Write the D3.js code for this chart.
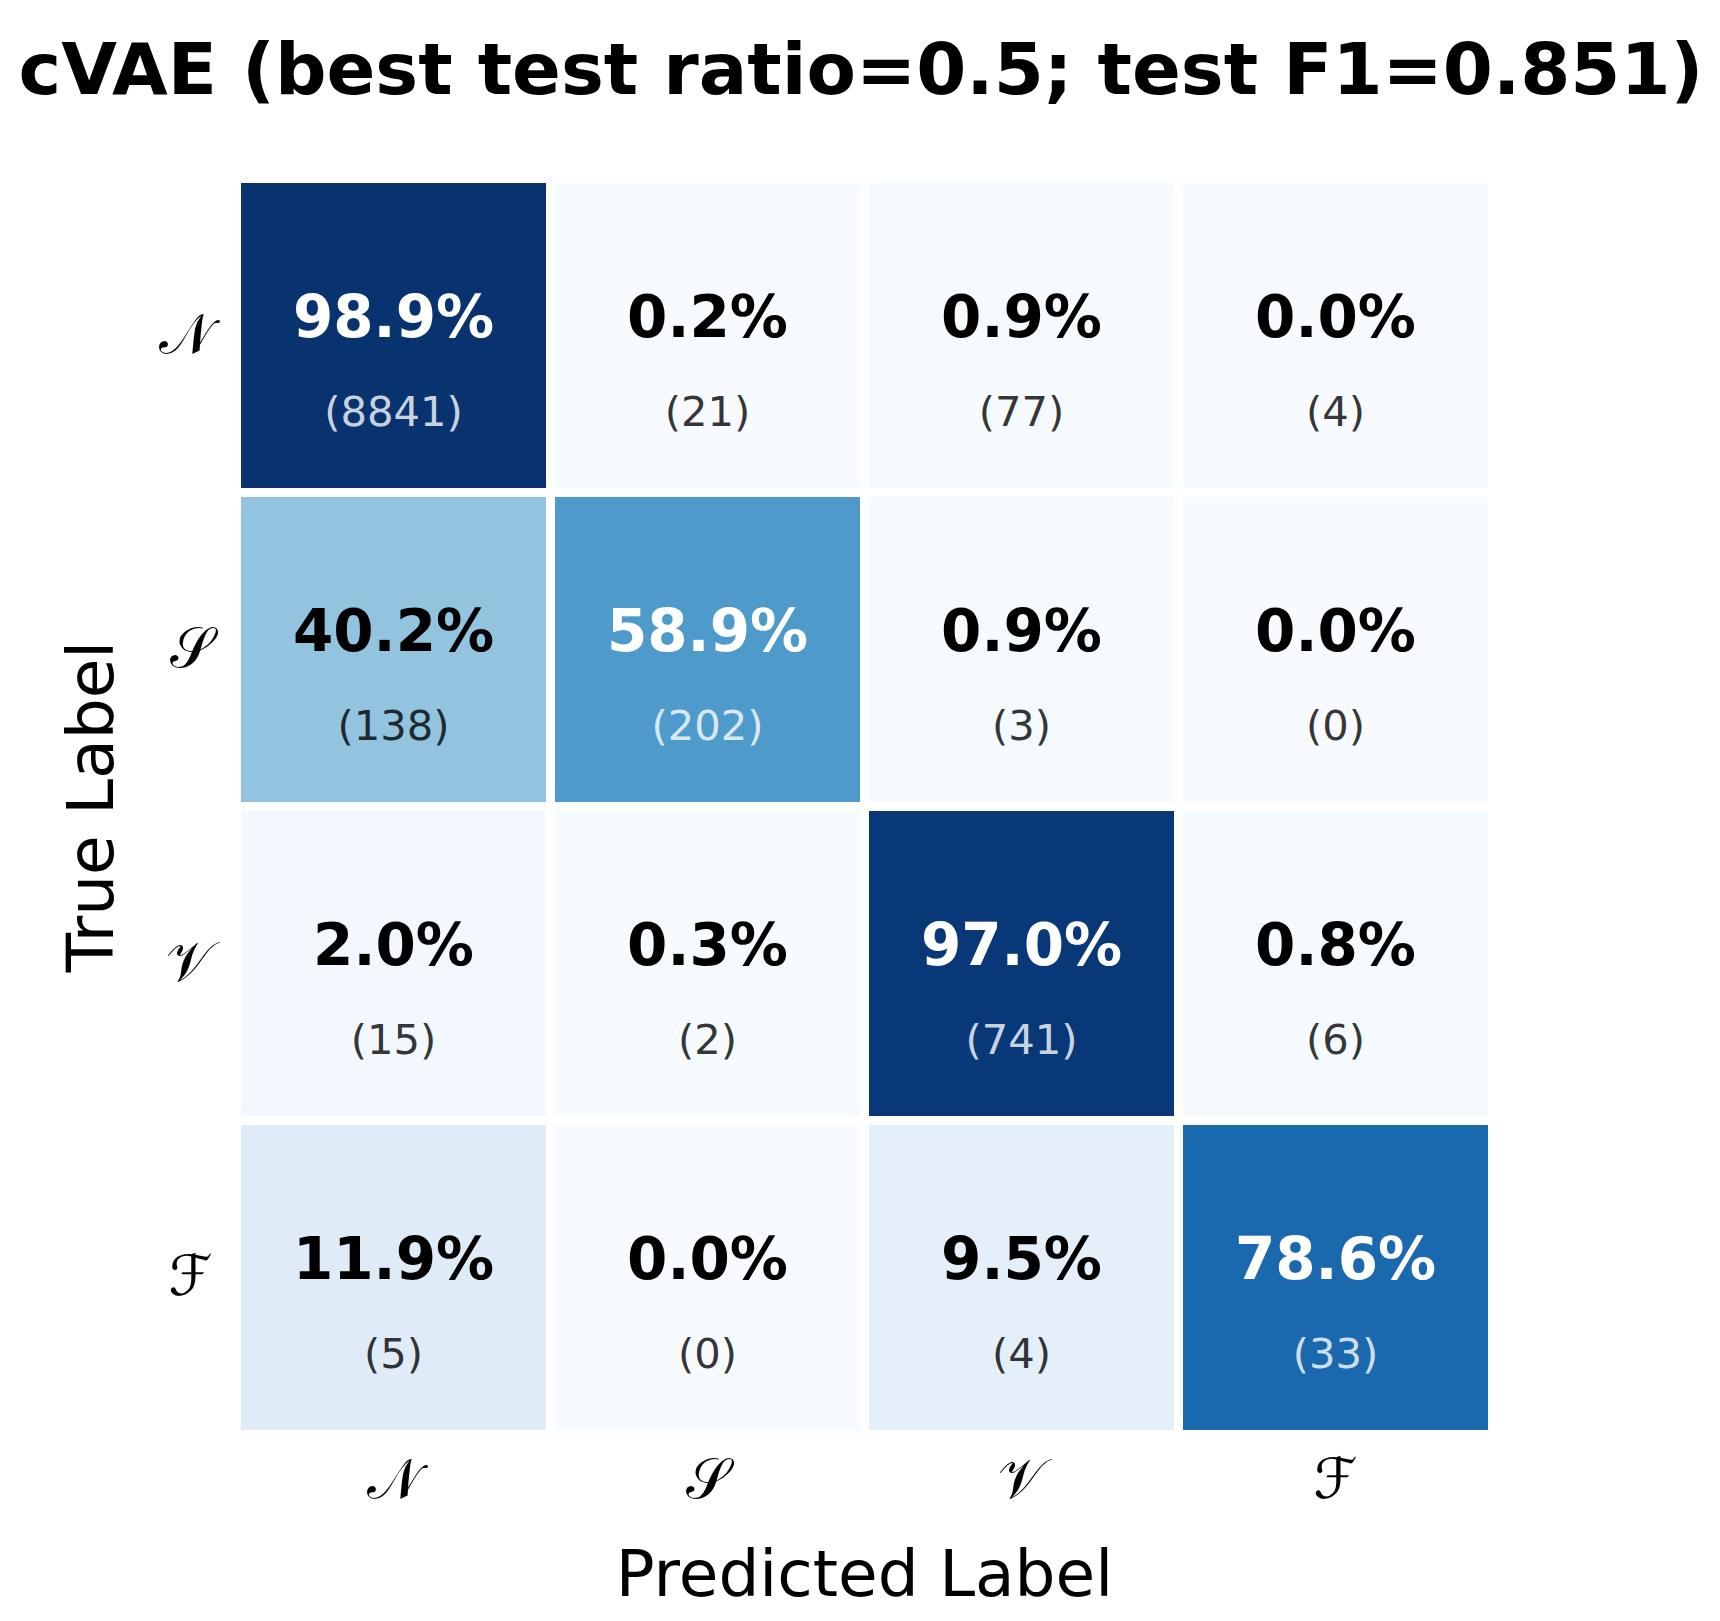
<!DOCTYPE html>
<html>
<head>
<meta charset="utf-8">
<script src="https://cdn.jsdelivr.net/npm/d3@7"></script>
<style>
    body { margin: 0; background: #fff; }
    svg text { font-family: "DejaVu Sans", sans-serif; }
    .title { font-weight: bold; font-size: 72px; }
    .pct { font-weight: bold; font-size: 58px; }
    .cnt { font-size: 41.7px; }
    .axis-label { font-size: 64.5px; }
    .tick-label { font-family: "DejaVu Serif", "DejaVu Sans", serif; font-size: 56px; }
</style>
</head>
<body>
<div class="panel"></div>
<script>

// Data ////////////////////////////////////

const classes = ["𝒩", "𝒮", "𝒱", "ℱ"];

// row-normalised percentages (true label x predicted label)
const percentN = [98.9, 0.2, 0.9, 0.0];
const percentS = [40.2, 58.9, 0.9, 0.0];
const percentV = [2.0, 0.3, 97.0, 0.8];
const percentF = [11.9, 0.0, 9.5, 78.6];

const countN = [8841, 21, 77, 4];
const countS = [138, 202, 3, 0];
const countV = [15, 2, 741, 6];
const countF = [5, 0, 4, 33];

const titleText = "cVAE (best test ratio=0.5; test F1=0.851)";

const percents = [percentN, percentS, percentV, percentF];
const counts = [countN, countS, countV, countF];

const cells = [];
classes.forEach((t, i) => {
    classes.forEach((p, j) => {
        cells.push({ trueLabel: t, predLabel: p, pct: percents[i][j], count: counts[i][j] });
    });
});

drawMatrix();

function drawMatrix() {

    const width = 1720;
    const height = 1621;

    const svg = d3.select(".panel").append("svg")
        .attr("width", width)
        .attr("height", height)
        .attr("viewBox", [0, 0, width, height]);

    // Title

    svg.append("text")
        .attr("class", "title")
        .attr("x", 861)
        .attr("y", 94)
        .attr("text-anchor", "middle")
        .text(titleText);

    // Scales

    const x = d3.scaleBand()
        .domain(classes)
        .range([236.5, 1492.5]);

    const y = d3.scaleBand()
        .domain(classes)
        .range([178.5, 1434.5]);

    const color = d3.scaleSequential(d3.interpolateBlues)
        .domain([0, 1]);

    const gap = 4.5;

    // Cells

    const cell = svg.append("g")
        .selectAll("g")
        .data(cells)
        .join("g");

    cell.append("rect")
        .attr("x", d => x(d.predLabel) + gap)
        .attr("y", d => y(d.trueLabel) + gap)
        .attr("width", x.bandwidth() - 2 * gap)
        .attr("height", y.bandwidth() - 2 * gap)
        .attr("fill", d => color(d.pct / 100));

    cell.append("text")
        .attr("class", "pct")
        .attr("x", d => x(d.predLabel) + x.bandwidth() / 2)
        .attr("y", d => y(d.trueLabel) + y.bandwidth() / 2 + 1)
        .attr("text-anchor", "middle")
        .attr("fill", d => d.pct > 50 ? "#fff" : "#000")
        .text(d => d.pct.toFixed(1) + "%");

    cell.append("text")
        .attr("class", "cnt")
        .attr("x", d => x(d.predLabel) + x.bandwidth() / 2)
        .attr("y", d => y(d.trueLabel) + y.bandwidth() / 2 + 90.5)
        .attr("text-anchor", "middle")
        .attr("fill", d => d.pct > 50 ? "#fff" : "#000")
        .attr("fill-opacity", 0.8)
        .text(d => "(" + d.count + ")");

    // Axes

    const xAxis = svg.append("g")
        .attr("transform", `translate(0, 1434.5)`)
        .call(d3.axisBottom(x).tickSize(0).tickPadding(24));
    xAxis.select(".domain").remove();
    xAxis.selectAll("text")
        .attr("class", "tick-label")
        .attr("fill", "#000");

    const yAxis = svg.append("g")
        .attr("transform", `translate(236.5, 0)`)
        .call(d3.axisLeft(y).tickSize(0).tickPadding(24));
    yAxis.select(".domain").remove();
    yAxis.selectAll("text")
        .attr("class", "tick-label")
        .attr("fill", "#000");

    svg.append("text")
        .attr("class", "axis-label")
        .attr("x", 864.5)
        .attr("y", 1596)
        .attr("text-anchor", "middle")
        .text("Predicted Label");

    svg.append("text")
        .attr("class", "axis-label")
        .attr("transform", `translate(113, 806.5) rotate(-90)`)
        .attr("text-anchor", "middle")
        .text("True Label");
}

</script>
</body>
</html>
